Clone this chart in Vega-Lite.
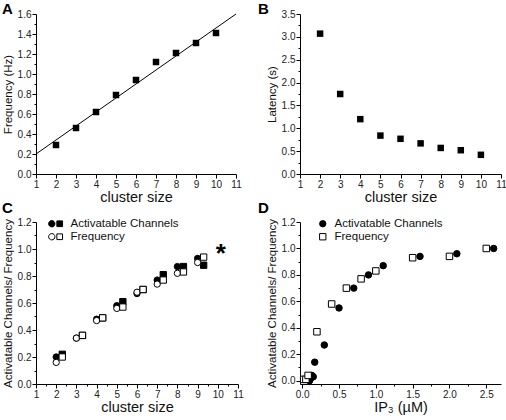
{
  "$schema": "https://vega.github.io/schema/vega-lite/v6.json",
  "padding": {"left": 2, "top": 2, "right": 1, "bottom": 1},
  "config": {
    "font": "Liberation Sans",
    "view": {"stroke": null},
    "axis": {"domainColor": "black", "tickColor": "black", "labelColor": "#222", "titleColor": "#111", "labelFontSize": 10, "titleFontWeight": "normal", "grid": false, "tickSize": 4, "labelPadding": 1, "labelOverlap": false, "labelFlush": false, "labelFont": "Liberation Sans", "titleFont": "Liberation Sans"},
    "axisX": {"titleFontSize": 14.5, "titlePadding": 1},
    "axisY": {"titleFontSize": 11.5, "titlePadding": 4},
    "title": {"fontSize": 15, "fontWeight": "bold", "anchor": "start", "font": "Liberation Sans", "color": "black", "baseline": "bottom", "offset": -8},
    "legend": {"labelFont": "Liberation Sans", "labelFontSize": 11.5, "labelColor": "#111"}
  },
  "columns": 2,
  "bounds": "flush",
  "spacing": {"column": 62, "row": 48},
  "resolve": {"scale": {"fill": "independent", "shape": "independent"}, "legend": {"fill": "independent", "shape": "independent"}},
  "concat": [
    {
      "title": {"text": "A", "dx": 0},
      "width": 200, "height": 160,
      "encoding": {
        "x": {"field": "size", "type": "quantitative", "scale": {"domain": [1, 11], "nice": false}, "axis": {"title": "cluster size", "values": [1,2,3,4,5,6,7,8,9,10,11], "format": "d", "labelOverlap": false}},
        "y": {"field": "freq", "type": "quantitative", "scale": {"domain": [0, 1.6], "nice": false}, "axis": {"title": "Frequency (Hz)", "labelOverlap": false, "values": [0,0.1,0.2,0.3,0.4,0.5,0.6,0.7,0.8,0.9,1.0,1.1,1.2,1.3,1.4,1.5,1.6], "labelExpr": "round(datum.value*10) % 2 === 0 ? format(datum.value, '.1f') : ''", "tickSize": {"condition": {"test": "round(datum.value*10) % 2 === 0", "value": 4}, "value": 2}}}
      },
      "layer": [
        {
          "data": {"values": [{"size": 1, "freq": 0.2}, {"size": 11, "freq": 1.6}]},
          "mark": {"type": "line", "color": "black", "strokeWidth": 1}
        },
        {
          "data": {"values": [
            {"size": 2, "freq": 0.29}, {"size": 3, "freq": 0.46}, {"size": 4, "freq": 0.62},
            {"size": 5, "freq": 0.79}, {"size": 6, "freq": 0.94}, {"size": 7, "freq": 1.12},
            {"size": 8, "freq": 1.21}, {"size": 9, "freq": 1.31}, {"size": 10, "freq": 1.41}]},
          "mark": {"type": "point", "shape": "square", "filled": true, "color": "black", "size": 42, "opacity": 1}
        }
      ]
    },
    {
      "title": {"text": "B", "dx": -8},
      "width": 201, "height": 160,
      "data": {"values": [
        {"size": 2, "lat": 3.07}, {"size": 3, "lat": 1.75}, {"size": 4, "lat": 1.20},
        {"size": 5, "lat": 0.84}, {"size": 6, "lat": 0.77}, {"size": 7, "lat": 0.67},
        {"size": 8, "lat": 0.57}, {"size": 9, "lat": 0.52}, {"size": 10, "lat": 0.42}]},
      "mark": {"type": "point", "shape": "square", "filled": true, "color": "black", "size": 42, "opacity": 1},
      "encoding": {
        "x": {"field": "size", "type": "quantitative", "scale": {"domain": [1, 11], "nice": false}, "axis": {"title": "cluster size", "values": [1,2,3,4,5,6,7,8,9,10,11], "format": "d", "labelOverlap": false}},
        "y": {"field": "lat", "type": "quantitative", "scale": {"domain": [0, 3.5], "nice": false}, "axis": {"title": "Latency (s)", "labelOverlap": false, "values": [0,0.25,0.5,0.75,1,1.25,1.5,1.75,2,2.25,2.5,2.75,3,3.25,3.5], "labelExpr": "round(datum.value*4) % 2 === 0 ? format(datum.value, '.1f') : ''", "tickSize": {"condition": {"test": "round(datum.value*4) % 2 === 0", "value": 4}, "value": 2}}}
      }
    },
    {
      "title": {"text": "C", "dx": 0, "offset": 1},
      "width": 202, "height": 162,
      "encoding": {
        "x": {"field": "size", "type": "quantitative", "scale": {"domain": [1, 11], "nice": false}, "axis": {"title": "cluster size", "labelOverlap": false, "values": [1,1.5,2,2.5,3,3.5,4,4.5,5,5.5,6,6.5,7,7.5,8,8.5,9,9.5,10,10.5,11], "labelExpr": "round(datum.value*2) % 2 === 0 ? format(datum.value, 'd') : ''", "tickSize": {"condition": {"test": "round(datum.value*2) % 2 === 0", "value": 4}, "value": 2}}},
        "y": {"field": "value", "type": "quantitative", "scale": {"domain": [0, 1.2], "nice": false}, "axis": {"title": "Activatable Channels/ Frequency", "labelOverlap": false, "values": [0,0.1,0.2,0.3,0.4,0.5,0.6,0.7,0.8,0.9,1.0,1.1,1.2], "labelExpr": "round(datum.value*10) % 2 === 0 ? format(datum.value, '.1f') : ''", "tickSize": {"condition": {"test": "round(datum.value*10) % 2 === 0", "value": 4}, "value": 2}}}
      },
      "layer": [
        {
          "data": {"values": [
            {"size": 2, "value": 0.20, "series": "Activatable Channels", "marker": "circle"},
            {"size": 3, "value": 0.34, "series": "Activatable Channels", "marker": "circle"},
            {"size": 4, "value": 0.48, "series": "Activatable Channels", "marker": "circle"},
            {"size": 5, "value": 0.58, "series": "Activatable Channels", "marker": "circle"},
            {"size": 6, "value": 0.67, "series": "Activatable Channels", "marker": "circle"},
            {"size": 7, "value": 0.77, "series": "Activatable Channels", "marker": "circle"},
            {"size": 8, "value": 0.87, "series": "Activatable Channels", "marker": "circle"},
            {"size": 9, "value": 0.93, "series": "Activatable Channels", "marker": "circle"},
            {"size": 2.3, "value": 0.22, "series": "Activatable Channels", "marker": "square"},
            {"size": 3.3, "value": 0.36, "series": "Activatable Channels", "marker": "square"},
            {"size": 4.3, "value": 0.49, "series": "Activatable Channels", "marker": "square"},
            {"size": 5.3, "value": 0.61, "series": "Activatable Channels", "marker": "square"},
            {"size": 6.3, "value": 0.70, "series": "Activatable Channels", "marker": "square"},
            {"size": 7.3, "value": 0.81, "series": "Activatable Channels", "marker": "square"},
            {"size": 8.3, "value": 0.87, "series": "Activatable Channels", "marker": "square"},
            {"size": 9.3, "value": 0.88, "series": "Activatable Channels", "marker": "square"},
            {"size": 2, "value": 0.16, "series": "Frequency", "marker": "circle"},
            {"size": 3, "value": 0.34, "series": "Frequency", "marker": "circle"},
            {"size": 4, "value": 0.47, "series": "Frequency", "marker": "circle"},
            {"size": 5, "value": 0.56, "series": "Frequency", "marker": "circle"},
            {"size": 6, "value": 0.68, "series": "Frequency", "marker": "circle"},
            {"size": 7, "value": 0.74, "series": "Frequency", "marker": "circle"},
            {"size": 8, "value": 0.82, "series": "Frequency", "marker": "circle"},
            {"size": 9, "value": 0.90, "series": "Frequency", "marker": "circle"},
            {"size": 2.3, "value": 0.20, "series": "Frequency", "marker": "square"},
            {"size": 3.3, "value": 0.36, "series": "Frequency", "marker": "square"},
            {"size": 4.3, "value": 0.49, "series": "Frequency", "marker": "square"},
            {"size": 5.3, "value": 0.57, "series": "Frequency", "marker": "square"},
            {"size": 6.3, "value": 0.70, "series": "Frequency", "marker": "square"},
            {"size": 7.3, "value": 0.77, "series": "Frequency", "marker": "square"},
            {"size": 8.3, "value": 0.83, "series": "Frequency", "marker": "square"},
            {"size": 9.3, "value": 0.94, "series": "Frequency", "marker": "square"}
          ]},
          "mark": {"type": "point", "filled": true, "stroke": "black", "strokeWidth": 1, "size": 40, "opacity": 1},
          "encoding": {
            "fill": {"field": "series", "type": "nominal", "scale": {"domain": ["Activatable Channels", "Frequency"], "range": ["black", "white"]},
              "legend": {"title": null, "orient": "none", "legendX": 14, "legendY": -4, "symbolType": "M -2.25,0 A 1,1 0 1,1 -0.25,0 A 1,1 0 1,1 -2.25,0 Z M 0.35,-0.9 L 2.15,-0.9 L 2.15,0.9 L 0.35,0.9 Z", "symbolSize": 40, "symbolStrokeColor": "black", "symbolStrokeWidth": 1, "labelOffset": 9, "rowPadding": 0}},
            "shape": {"field": "marker", "type": "nominal", "scale": {"domain": ["circle", "square"], "range": ["circle", "square"]}, "legend": null},
            "order": {"field": "series", "type": "nominal"}
          }
        },
        {
          "data": {"values": [{"size": 10.15, "value": 1.0, "note": "*"}]},
          "mark": {"type": "text", "fontSize": 26, "fontWeight": "bold", "color": "black", "baseline": "middle", "dy": 5},
          "encoding": {
            "text": {"field": "note"}
          }
        }
      ]
    },
    {
      "title": {"text": "D", "dx": -8, "offset": 1},
      "width": 201, "height": 162,
      "data": {"values": [
        {"ip3": 0.10, "value": 0.00, "series": "Activatable Channels"},
        {"ip3": 0.12, "value": 0.02, "series": "Activatable Channels"},
        {"ip3": 0.13, "value": 0.04, "series": "Activatable Channels"},
        {"ip3": 0.15, "value": 0.03, "series": "Activatable Channels"},
        {"ip3": 0.17, "value": 0.14, "series": "Activatable Channels"},
        {"ip3": 0.30, "value": 0.27, "series": "Activatable Channels"},
        {"ip3": 0.50, "value": 0.55, "series": "Activatable Channels"},
        {"ip3": 0.70, "value": 0.70, "series": "Activatable Channels"},
        {"ip3": 0.90, "value": 0.80, "series": "Activatable Channels"},
        {"ip3": 1.10, "value": 0.87, "series": "Activatable Channels"},
        {"ip3": 1.60, "value": 0.94, "series": "Activatable Channels"},
        {"ip3": 2.10, "value": 0.96, "series": "Activatable Channels"},
        {"ip3": 2.60, "value": 1.00, "series": "Activatable Channels"},
        {"ip3": 0.02, "value": 0.01, "series": "Frequency"},
        {"ip3": 0.05, "value": 0.01, "series": "Frequency"},
        {"ip3": 0.08, "value": 0.04, "series": "Frequency"},
        {"ip3": 0.20, "value": 0.37, "series": "Frequency"},
        {"ip3": 0.40, "value": 0.58, "series": "Frequency"},
        {"ip3": 0.60, "value": 0.70, "series": "Frequency"},
        {"ip3": 0.80, "value": 0.77, "series": "Frequency"},
        {"ip3": 1.00, "value": 0.83, "series": "Frequency"},
        {"ip3": 1.50, "value": 0.93, "series": "Frequency"},
        {"ip3": 2.00, "value": 0.94, "series": "Frequency"},
        {"ip3": 2.50, "value": 1.00, "series": "Frequency"}
      ]},
      "mark": {"type": "point", "filled": true, "stroke": "black", "strokeWidth": 1, "size": 42, "opacity": 1},
      "encoding": {
        "x": {"field": "ip3", "type": "quantitative", "scale": {"domain": [-0.03, 2.7], "nice": false, "zero": false}, "axis": {"title": "IP₃ (µM)", "labelOverlap": false, "values": [0,0.25,0.5,0.75,1,1.25,1.5,1.75,2,2.25,2.5], "labelExpr": "round(datum.value*4) % 2 === 0 ? format(datum.value, '.1f') : ''", "tickSize": {"condition": {"test": "round(datum.value*4) % 2 === 0", "value": 4}, "value": 2}}},
        "y": {"field": "value", "type": "quantitative", "scale": {"domain": [-0.025, 1.2], "nice": false, "zero": false}, "axis": {"title": "Activatable Channels/ Frequency", "labelOverlap": false, "values": [0,0.1,0.2,0.3,0.4,0.5,0.6,0.7,0.8,0.9,1.0,1.1,1.2], "labelExpr": "round(datum.value*10) % 2 === 0 ? format(datum.value, '.1f') : ''", "tickSize": {"condition": {"test": "round(datum.value*10) % 2 === 0", "value": 4}, "value": 2}}},
        "fill": {"field": "series", "type": "nominal", "scale": {"domain": ["Activatable Channels", "Frequency"], "range": ["black", "white"]},
          "legend": {"title": null, "orient": "none", "legendX": 17, "legendY": -4, "symbolSize": 40, "symbolStrokeColor": "black", "symbolStrokeWidth": 1, "labelOffset": 6, "rowPadding": 0}},
        "shape": {"field": "series", "type": "nominal", "scale": {"domain": ["Activatable Channels", "Frequency"], "range": ["circle", "square"]}}
      }
    }
  ]
}
